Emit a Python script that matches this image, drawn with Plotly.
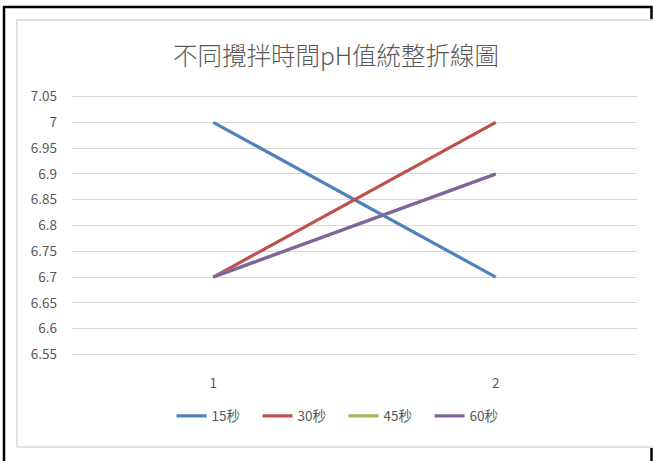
import plotly.graph_objects as go

# Stirring time series: pH at measurements 1 and 2
categories = [1, 2]
category_labels = ["1", "2"]
series_names = ["15秒", "30秒", "45秒", "60秒"]
ph_15s = [7.0, 6.7]
ph_30s = [6.7, 7.0]
ph_45s = [6.7, 6.9]
ph_60s = [6.7, 6.9]
y_tick_values = [6.55, 6.6, 6.65, 6.7, 6.75, 6.8, 6.85, 6.9, 6.95, 7.0, 7.05]
y_tick_labels = ["6.55", "6.6", "6.65", "6.7", "6.75", "6.8", "6.85", "6.9", "6.95", "7", "7.05"]

colors = ["#4F81BD", "#C0504D", "#9BBB59", "#8064A2"]
font_family = "Noto Sans CJK TC, Noto Sans, sans-serif"
text_color = "#595959"

W, H = 653, 461
L, R, T, B = 72, 16, 94, 104
plot_w = W - L - R
plot_h = H - T - B


def px_x(x):
    return (x - L) / plot_w


def px_y(y):
    return (H - B - y) / plot_h


fig = go.Figure()
for name, vals, col in zip(series_names, [ph_15s, ph_30s, ph_45s, ph_60s], colors):
    fig.add_trace(go.Scatter(
        x=categories, y=vals, name=name, mode="lines",
        line=dict(color=col, width=3.2),
        hoverinfo="skip",
    ))

shapes = []
# light grey chart frame
shapes.append(dict(type="rect", xref="paper", yref="paper",
                   x0=px_x(17), x1=px_x(654), y0=px_y(447), y1=px_y(20),
                   line=dict(color="#D9D9D9", width=1.5), layer="below"))
# black outer frame pieces
black = dict(color="black", width=2.5)
shapes.append(dict(type="line", xref="paper", yref="paper",
                   x0=px_x(4), x1=px_x(4), y0=px_y(6), y1=px_y(462), line=black))
shapes.append(dict(type="line", xref="paper", yref="paper",
                   x0=px_x(3), x1=px_x(652), y0=px_y(7), y1=px_y(7), line=black))
shapes.append(dict(type="line", xref="paper", yref="paper",
                   x0=px_x(651.5), x1=px_x(651.5), y0=px_y(6), y1=px_y(19), line=black))
shapes.append(dict(type="line", xref="paper", yref="paper",
                   x0=px_x(651.5), x1=px_x(651.5), y0=px_y(448), y1=px_y(462), line=black))

fig.update_layout(
    width=W, height=H,
    margin=dict(l=L, r=R, t=T, b=B),
    paper_bgcolor="white", plot_bgcolor="white",
    font=dict(family=font_family, color=text_color, size=13),
    title=dict(text="不同攪拌時間pH值統整折線圖", x=336 / W, xref="container",
               xanchor="center", y=1 - 56 / H, yref="container", yanchor="middle",
               font=dict(size=24.5, color=text_color, family=font_family, weight=300)),
    showlegend=True,
    legend=dict(orientation="h", x=0.5 - 11 / plot_w, xanchor="center",
                y=px_y(416), yanchor="middle",
                font=dict(size=13.5, color=text_color),
                itemwidth=30, entrywidth=41, traceorder="normal"),
    shapes=shapes,
    xaxis=dict(range=[0.5, 2.5], tickvals=categories, ticktext=category_labels,
               showgrid=False, zeroline=False, showline=False, ticks="",
               ticklabelstandoff=16, tickfont=dict(size=13.5, color=text_color),
               fixedrange=True),
    yaxis=dict(range=[6.545, 7.055], tickvals=y_tick_values, ticktext=y_tick_labels,
               showgrid=True, gridcolor="#D9D9D9", gridwidth=1.3,
               zeroline=False, showline=False, ticks="",
               ticklabelstandoff=14, tickfont=dict(size=13.5, color=text_color),
               fixedrange=True),
)

fig.write_html("out.html")
